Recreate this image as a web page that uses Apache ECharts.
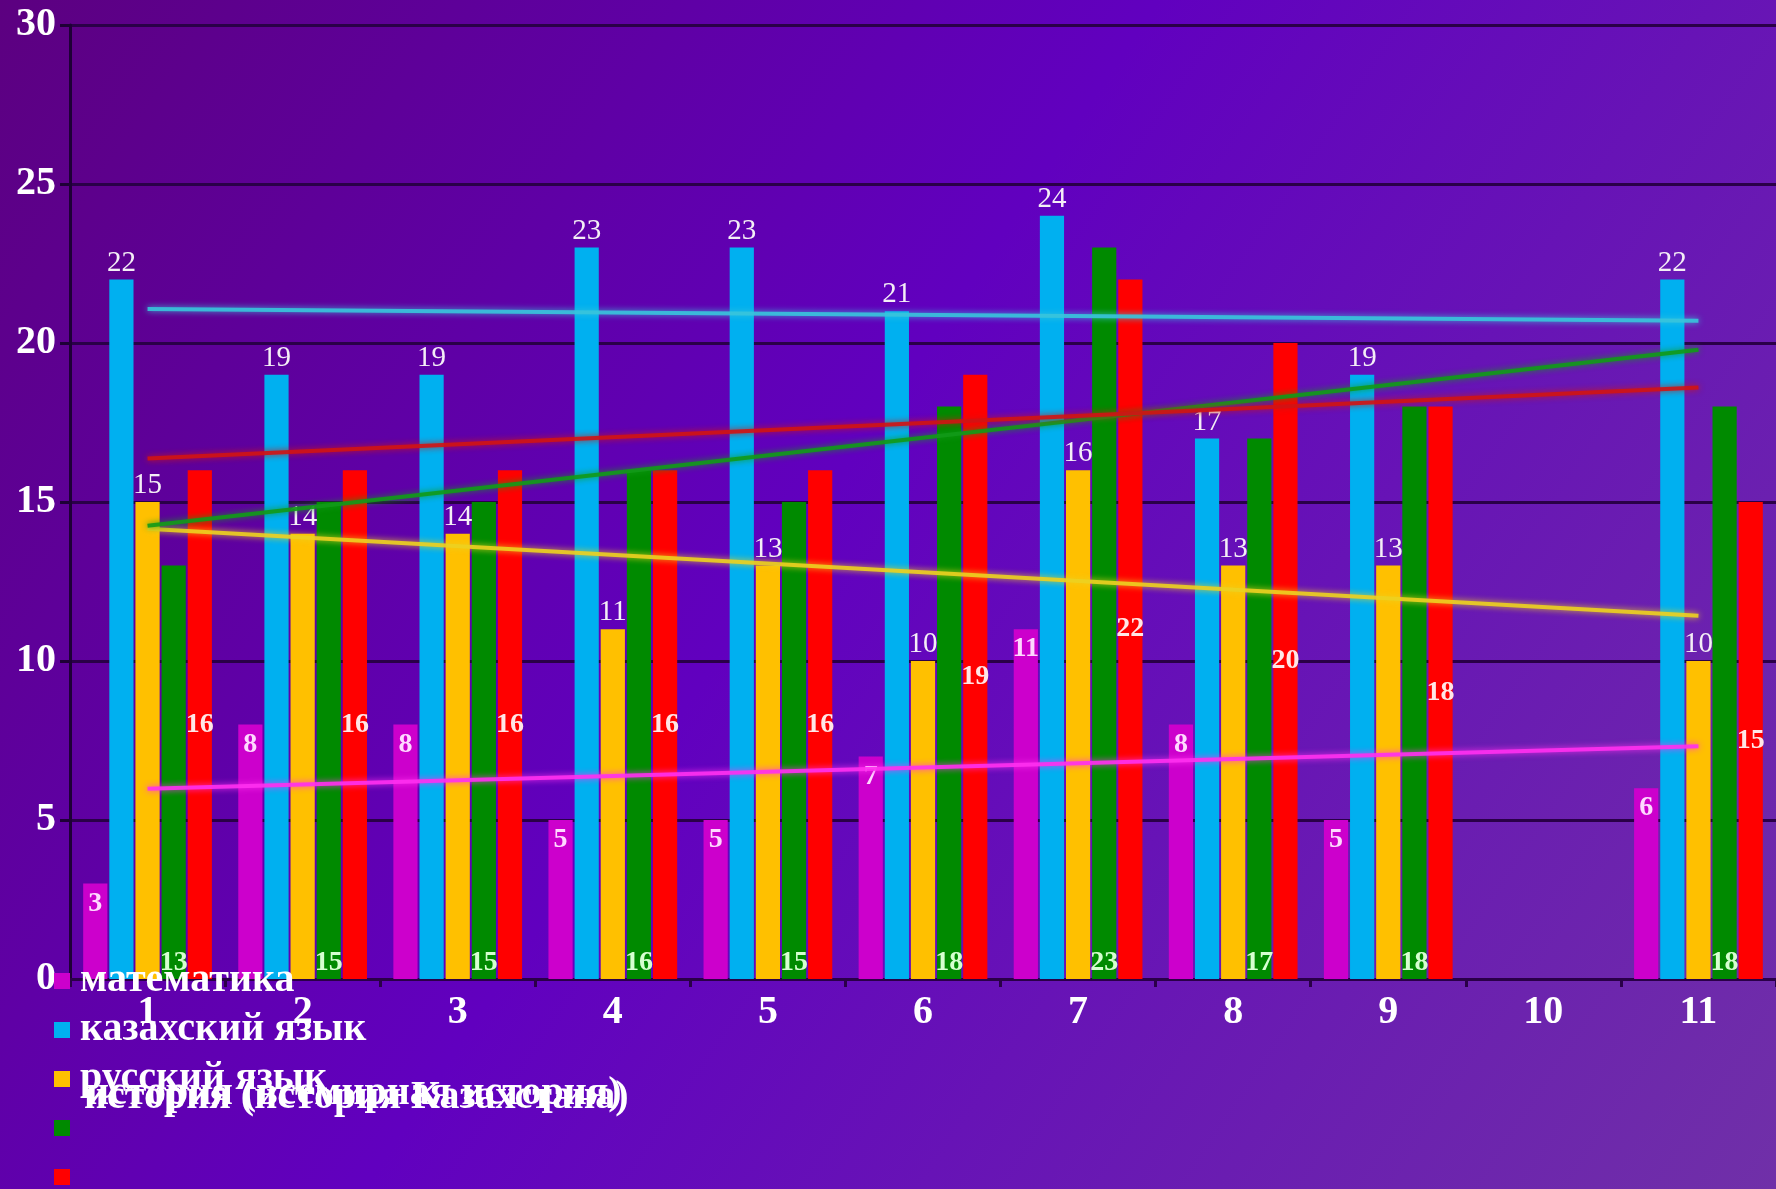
<!DOCTYPE html>
<html>
<head>
<meta charset="utf-8">
<title>chart</title>
<script src="https://cdn.jsdelivr.net/npm/echarts@6.0.0/dist/echarts.min.js"></script>
<style>
  html, body { margin: 0; padding: 0; }
  #chart { width: 1776px; height: 1189px; }
</style>
</head>
<body>
<div id="chart"></div>
<script>
// classes along the x axis (class 10 has no results)
const categories = ['1', '2', '3', '4', '5', '6', '7', '8', '9', '10', '11']

const mathValues = [3, 8, 8, 5, 5, 7, 11, 8, 5, null, 6]
const kazValues = [22, 19, 19, 23, 23, 21, 24, 17, 19, null, 22]
const rusValues = [15, 14, 14, 11, 13, 10, 16, 13, 13, null, 10]
const histWorldValues = [13, 15, 15, 16, 15, 18, 23, 17, 18, null, 18]
const histKazValues = [16, 16, 16, 16, 16, 19, 22, 20, 18, null, 15]

const seriesNames = ['математика', 'казахский язык', 'русский язык', 'история (всемирная история)', 'история (история Казахстана)']

// linear trend lines, value at class 1 and at class 11
const trendStart = [5.98, 21.07, 14.16, 14.25, 16.37]
const trendEnd = [7.32, 20.70, 11.42, 19.79, 18.60]

const yTicks = [0, 5, 10, 15, 20, 25, 30]

const barColors = ['#cc00cc', '#00b0f0', '#ffc000', '#008a00', '#ff0000']
const trendColors = ['#ff30f0', '#38c4dc', '#ecd020', '#129a18', '#d01414']

const font = 'Liberation Serif'

const chart = echarts.init(document.getElementById('chart'))

const barLabels = [
  {show: true, position: 'insideTop', distance: 6, color: '#ffd8ff', fontWeight: 'bold', fontSize: 28, fontFamily: font},
  {show: true, position: 'top', distance: 2, color: '#f4eef6', fontSize: 29, fontFamily: font},
  {show: true, position: 'top', distance: 2, color: '#f4eef6', fontSize: 29, fontFamily: font},
  {show: true, position: 'insideBottom', distance: 2, color: '#d6ffd0', fontWeight: 'bold', fontSize: 28, fontFamily: font},
  {show: true, position: 'inside', color: '#ffe6e6', fontWeight: 'bold', fontSize: 28, fontFamily: font}
]

const barData = [mathValues, kazValues, rusValues, histWorldValues, histKazValues]

const series = []
barData.forEach((vals, i) => {
  series.push({
    name: seriesNames[i],
    type: 'bar',
    data: vals,
    barGap: '8%',
    barCategoryGap: '17%',
    itemStyle: {color: barColors[i]},
    label: barLabels[i],
    z: 2
  })
})
barData.forEach((vals, i) => {
  const last = categories.length - 1
  series.push({
    name: 'trend ' + i,
    type: 'line',
    data: categories.map((c, k) => k === 0 ? trendStart[i] : (k === last ? trendEnd[i] : null)),
    connectNulls: true,
    symbol: 'none',
    silent: true,
    lineStyle: {
      color: trendColors[i],
      width: 4,
      opacity: 0.9,
      shadowColor: trendColors[i],
      shadowBlur: 6
    },
    z: 5
  })
})

chart.setOption({
  backgroundColor: {
    type: 'linear', x: 0, y: 0, x2: 1, y2: 1,
    colorStops: [
      {offset: 0, color: '#5c0080'},
      {offset: 0.45, color: '#6100bf'},
      {offset: 1, color: '#7030a8'}
    ]
  },
  animation: false,
  grid: {left: 70, right: 0, top: 25, bottom: 210},
  legend: {
    data: seriesNames,
    orient: 'vertical',
    left: 54,
    top: 961,
    height: 260,
    padding: 0,
    icon: 'rect',
    itemWidth: 16,
    itemHeight: 16,
    itemGap: 9,
    formatter: name => seriesNames.indexOf(name) < 3 ? name : ' ',
    textStyle: {
      color: '#ffffff',
      fontSize: 40,
      fontWeight: 'bold',
      fontFamily: font,
      padding: [0, 0, 0, 5]
    }
  },
  graphic: [
    {
      type: 'text', left: 86, top: 1074, z: 100,
      style: {text: seriesNames[3], fill: '#ffffff', font: 'bold 40px "Liberation Serif"'}
    },
    {
      type: 'text', left: 84, top: 1078, z: 100,
      style: {text: seriesNames[4], fill: '#ffffff', font: 'bold 40px "Liberation Serif"'}
    }
  ],
  xAxis: {
    type: 'category',
    data: categories,
    axisLine: {lineStyle: {color: '#2a0048', width: 3}},
    axisTick: {show: true, length: 8, lineStyle: {color: '#2a0048', width: 3}},
    axisLabel: {color: '#ffffff', fontSize: 40, fontWeight: 'bold', fontFamily: font, margin: 14}
  },
  yAxis: {
    type: 'value',
    min: yTicks[0],
    max: yTicks[yTicks.length - 1],
    interval: 5,
    axisLine: {show: true, lineStyle: {color: '#1e0036', width: 3}},
    axisTick: {show: true, length: 10, lineStyle: {color: '#1e0036', width: 3}},
    splitLine: {lineStyle: {color: '#2a0048', width: 3}},
    axisLabel: {color: '#ffffff', fontSize: 40, fontWeight: 'bold', fontFamily: font, margin: 14}
  },
  series: series
})
</script>
</body>
</html>
